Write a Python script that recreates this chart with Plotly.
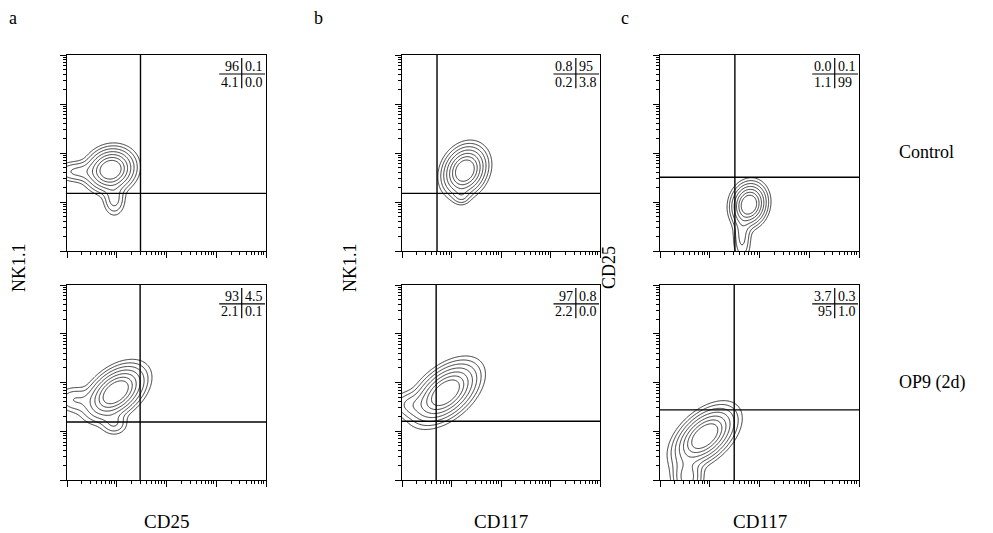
import numpy as np
import plotly.graph_objects as go

# ---------------- data ----------------
panel_letters = ["a", "b", "c"]
x_titles = ["CD25", "CD117", "CD117"]
y_titles = ["NK1.1", "NK1.1", "CD25"]
row_labels = ["Control", "OP9 (2d)"]

# quadrant percentages per panel: [UL, UR, LL, LR]
quad_a_ctrl = ["96", "0.1", "4.1", "0.0"]
quad_a_op9 = ["93", "4.5", "2.1", "0.1"]
quad_b_ctrl = ["0.8", "95", "0.2", "3.8"]
quad_b_op9 = ["97", "0.8", "2.2", "0.0"]
quad_c_ctrl = ["0.0", "0.1", "1.1", "99"]
quad_c_op9 = ["3.7", "0.3", "95", "1.0"]

# quadrant gate positions (fluorescence, x gate / y gate)
gate_a_ctrl = [30, 15]
gate_a_op9 = [29.5, 15.5]
gate_b_ctrl = [5.1, 15]
gate_b_op9 = [4.9, 16]
gate_c_ctrl = [32, 32]
gate_c_op9 = [31, 27.5]

# population components (log10 centre x, y, spread x, y, correlation, weight)
pop_a_ctrl = [(0.88, 1.66, 0.23, 0.21, 0.10, 1.0), (0.95, 1.05, 0.12, 0.18, 0.0, 0.16), (0.20, 1.62, 0.25, 0.12, 0.0, 0.14)]
pop_a_op9 = [(0.98, 1.80, 0.28, 0.26, 0.45, 1.0), (0.95, 1.15, 0.15, 0.13, 0.0, 0.12), (0.15, 1.65, 0.20, 0.15, 0.0, 0.12)]
pop_b_ctrl = [(1.27, 1.64, 0.21, 0.24, 0.20, 1.0), (1.20, 1.12, 0.10, 0.10, 0.0, 0.10)]
pop_b_op9 = [(0.88, 1.79, 0.31, 0.29, 0.50, 1.0), (0.15, 1.55, 0.20, 0.15, 0.0, 0.12)]
pop_c_ctrl = [(1.79, 0.95, 0.17, 0.21, 0.10, 1.0), (1.65, 0.30, 0.10, 0.30, 0.0, 0.15)]
pop_c_op9 = [(0.90, 0.90, 0.29, 0.28, 0.50, 1.0), (0.55, 0.05, 0.16, 0.22, 0.0, 0.28)]

# ---------------- layout geometry ----------------
W, H = 993, 533
SERIF = "Liberation Serif, Times New Roman, serif"
col_px = [(67, 266), (402, 600), (660, 859)]
row_px = [(55, 251), (285, 480)]

panels = [
    (0, 0, pop_a_ctrl, gate_a_ctrl, quad_a_ctrl),
    (1, 0, pop_b_ctrl, gate_b_ctrl, quad_b_ctrl),
    (2, 0, pop_c_ctrl, gate_c_ctrl, quad_c_ctrl),
    (0, 1, pop_a_op9, gate_a_op9, quad_a_op9),
    (1, 1, pop_b_op9, gate_b_op9, quad_b_op9),
    (2, 1, pop_c_op9, gate_c_op9, quad_c_op9),
]

grid = np.linspace(0, 4, 241)
GX, GY = np.meshgrid(grid, grid)

def radius_field(comps):
    """Density of the population expressed as an equivalent Gaussian radius (negated)."""
    z = np.zeros_like(GX)
    for mx, my, sx, sy, r, w in comps:
        dx = (GX - mx) / sx
        dy = (GY - my) / sy
        q = (dx * dx - 2 * r * dx * dy + dy * dy) / (1 - r * r)
        z += w * np.exp(-0.5 * q)
    z = np.clip(z / z.max(), 1e-12, 1.0)
    return -np.sqrt(-2.0 * np.log(z))

fig = go.Figure()
layout = dict(
    width=W, height=H, margin=dict(l=0, r=0, t=0, b=0),
    paper_bgcolor="white", plot_bgcolor="white", showlegend=False,
    font=dict(family=SERIF, color="black"),
)
shapes = []
annotations = []

for i, (c, r, pop, gate, quad) in enumerate(panels):
    n = i + 1
    xa = "x" if n == 1 else f"x{n}"
    ya = "y" if n == 1 else f"y{n}"
    xkey = "xaxis" if n == 1 else f"xaxis{n}"
    ykey = "yaxis" if n == 1 else f"yaxis{n}"
    x0, x1 = col_px[c]
    y0, y1 = row_px[r]
    axis_common = dict(
        type="log", range=[0, 4], showgrid=False, zeroline=False,
        showticklabels=False, showline=True, linecolor="black", linewidth=1.4,
        mirror=True, ticks="outside", ticklen=6, tickwidth=1.2, tickcolor="black",
        dtick=1,
        minor=dict(ticks="outside", ticklen=3, tickwidth=1, tickcolor="black", dtick="D1"),
    )
    layout[xkey] = dict(axis_common, domain=[x0 / W, x1 / W], anchor=ya)
    layout[ykey] = dict(axis_common, domain=[1 - y1 / H, 1 - y0 / H], anchor=xa)

    z = radius_field(pop)
    fig.add_trace(go.Contour(
        x=10 ** grid, y=10 ** grid, z=z, xaxis=xa, yaxis=ya,
        autocontour=False,
        contours=dict(coloring="lines", start=-2.6, end=-0.9, size=0.283),
        colorscale=[[0, "#222"], [1, "#222"]], showscale=False,
        line=dict(width=0.9), hoverinfo="skip",
    ))
    # quadrant gates
    gx, gy = gate
    fig.add_trace(go.Scatter(x=[gx, gx], y=[1, 1e4], mode="lines", xaxis=xa, yaxis=ya,
                             line=dict(color="black", width=1.4), hoverinfo="skip"))
    fig.add_trace(go.Scatter(x=[1, 1e4], y=[gy, gy], mode="lines", xaxis=xa, yaxis=ya,
                             line=dict(color="black", width=1.4), hoverinfo="skip"))

    # quadrant percentage table
    div = 0.878
    shapes.append(dict(type="line", xref=f"{xa} domain", yref=f"{ya} domain",
                       x0=div, x1=div, y0=0.83, y1=0.985, line=dict(color="black", width=1.2)))
    shapes.append(dict(type="line", xref=f"{xa} domain", yref=f"{ya} domain",
                       x0=0.765, x1=0.995, y0=0.903, y1=0.903, line=dict(color="black", width=1.2)))
    for k, txt in enumerate(quad):
        left = k % 2 == 0
        yy = 0.942 if k < 2 else 0.862
        annotations.append(dict(
            text=txt, xref=f"{xa} domain", yref=f"{ya} domain",
            x=div - 0.006 if left else div + 0.006, y=yy,
            xanchor="right" if left else "left", yanchor="middle",
            showarrow=False, font=dict(size=14, family=SERIF),
        ))

# panel letters, axis titles, row labels
for c, (letter, xt, yt) in enumerate(zip(panel_letters, x_titles, y_titles)):
    x0, x1 = col_px[c]
    annotations.append(dict(text=letter, x=[13, 318, 625][c] / W, y=1 - 18 / H,
                            xref="paper", yref="paper", showarrow=False,
                            font=dict(size=18, family=SERIF), xanchor="center", yanchor="middle"))
    annotations.append(dict(text=xt, x=(x0 + x1) / 2 / W, y=1 - 521 / H,
                            xref="paper", yref="paper", showarrow=False,
                            font=dict(size=19, family=SERIF), xanchor="center", yanchor="middle"))
    annotations.append(dict(text=yt, x=[19, 350, 609][c] / W, y=1 - 268 / H,
                            xref="paper", yref="paper", showarrow=False, textangle=-90,
                            font=dict(size=18, family=SERIF), xanchor="center", yanchor="middle"))

for r, lab in enumerate(row_labels):
    annotations.append(dict(text=lab, x=897 / W, y=1 - [152, 382][r] / H,
                            xref="paper", yref="paper", showarrow=False,
                            font=dict(size=18, family=SERIF), xanchor="left", yanchor="middle"))

layout["shapes"] = shapes
layout["annotations"] = annotations
fig.update_layout(**layout)
fig.write_html("out.html", config={"displayModeBar": False},
               post_script="document.body.style.margin='0';")
